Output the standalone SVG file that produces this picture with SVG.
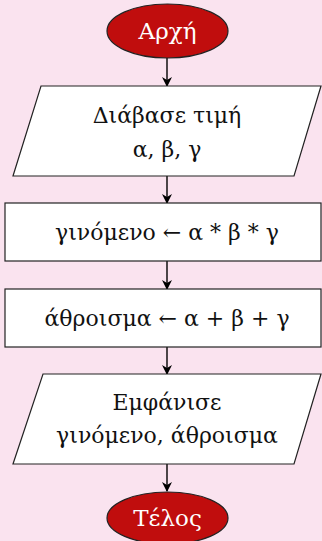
<svg xmlns="http://www.w3.org/2000/svg" width="322" height="541" viewBox="0 0 322 541">
<defs>
<marker id="ah" viewBox="0 0 10 10" refX="9" refY="5" markerWidth="10" markerHeight="10" markerUnits="userSpaceOnUse" orient="auto">
<path d="M0,0 L10,5 L0,10 L3,5 Z" fill="#000"/>
</marker>
<style>
.box{fill:#fff;stroke:#222;stroke-width:1.2}
.term{fill:#C00D0D;stroke:#222;stroke-width:1.2}
.t{font-family:"DejaVu Serif","Liberation Serif",serif;font-size:22px;fill:#111;text-anchor:middle}
.tw{font-family:"DejaVu Serif","Liberation Serif",serif;font-size:23px;fill:#fff;text-anchor:middle}
.c{stroke:#000;stroke-width:1.4;fill:none;marker-end:url(#ah)}
</style>
</defs>
<rect width="322" height="541" fill="#FAE3EF"/>
<g id="connectors">
<line class="c" x1="167" y1="58" x2="167" y2="86"/>
<line class="c" x1="167" y1="176" x2="167" y2="203"/>
<line class="c" x1="167" y1="261" x2="167" y2="289"/>
<line class="c" x1="167" y1="347" x2="167" y2="374"/>
<line class="c" x1="167" y1="464" x2="167" y2="491"/>
</g>
<g id="start">
<ellipse class="term" cx="167.5" cy="31" rx="60.5" ry="27"/>
<text class="tw" x="167.5" y="39">Αρχή</text>
</g>
<g id="input">
<polygon class="box" points="41,86 321,86 294,176 13,176"/>
<text class="t" x="167" y="123">Διάβασε τιμή</text>
<text class="t" x="167" y="157">α, β, γ</text>
</g>
<g id="product">
<rect class="box" x="5" y="203" width="316" height="58"/>
<text class="t" x="167" y="240">γινόμενο ← α * β * γ</text>
</g>
<g id="sum">
<rect class="box" x="5" y="289" width="316" height="58"/>
<text class="t" x="167" y="326">άθροισμα ← α + β + γ</text>
</g>
<g id="output">
<polygon class="box" points="43,374 321,374 294,464 13,464"/>
<text class="t" x="167" y="410">Εμφάνισε</text>
<text class="t" x="167" y="443">γινόμενο, άθροισμα</text>
</g>
<g id="end">
<ellipse class="term" cx="167.5" cy="518" rx="60.5" ry="26"/>
<text class="tw" x="167.5" y="526">Τέλος</text>
</g>
</svg>
